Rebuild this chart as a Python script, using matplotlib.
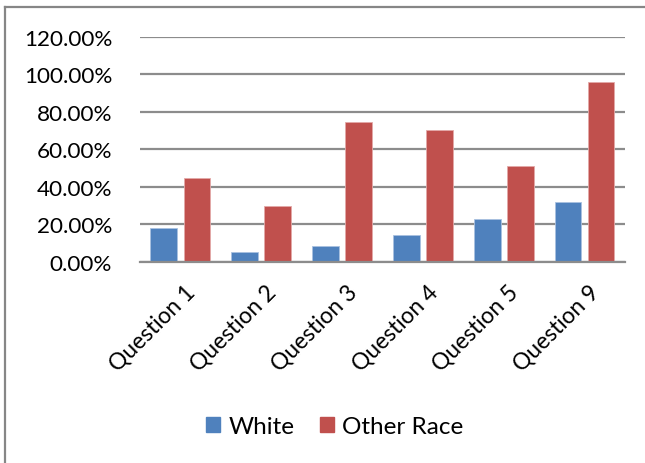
import numpy as np
import matplotlib.pyplot as plt
from matplotlib.lines import Line2D
from matplotlib.patches import Patch
from matplotlib.ticker import PercentFormatter
from matplotlib.transforms import ScaledTranslation

plt.rcParams['font.family'] = ['Lato', 'DejaVu Sans']

# Share of respondents per question, by group
questions = ["Question 1", "Question 2", "Question 3", "Question 4",
             "Question 5", "Question 9"]
white = [18.1, 5.2, 8.4, 14.2, 22.6, 31.8]
other_race = [44.6, 29.7, 74.5, 70.0, 51.0, 95.8]

blue = "#4F81BD"
red = "#C0504D"
grid_gray = "#8C8C8C"

fig = plt.figure(figsize=(6.45, 4.64), dpi=100)
ax = fig.add_axes([0.217, 0.4338, 0.752, 0.485])

x = np.arange(len(questions))
w = 0.33
ax.bar(x - 0.205, white, w, color=blue, edgecolor="#A9C1E0", linewidth=0.6,
       zorder=3)
ax.bar(x + 0.205, other_race, w, color=red, edgecolor="#E3A9A8",
       linewidth=0.6, zorder=3)

ax.set_xlim(-0.5, len(questions) - 0.5)
ax.set_ylim(0, 120)
ax.set_yticks(np.arange(0, 121, 20))
ax.yaxis.set_major_formatter(PercentFormatter(decimals=2))
ax.yaxis.grid(True, color=grid_gray, linewidth=1.6, zorder=0)
ax.set_axisbelow(True)

for s in ["top", "right", "left"]:
    ax.spines[s].set_visible(False)
ax.spines["bottom"].set_color(grid_gray)
ax.spines["bottom"].set_linewidth(1.6)
ax.spines["bottom"].set_zorder(4)

ax.tick_params(axis="both", length=0, colors="black")
ax.tick_params(axis="y", pad=20, labelsize=16.2)
ax.tick_params(axis="x", pad=14, labelsize=16.4)
ax.set_xticks(x)
ax.set_xticklabels(questions, rotation=45, ha="right",
                   rotation_mode="anchor")
shift = ScaledTranslation(4 / 100, 0, fig.dpi_scale_trans)
for lbl in ax.get_xticklabels():
    lbl.set_transform(lbl.get_transform() + shift)

# Legend below the category labels
handles = [Patch(color=blue, label="White"),
           Patch(color=red, label="Other Race")]
fig.legend(handles=handles, loc="center", bbox_to_anchor=(0.519, 0.078),
           ncol=2, frameon=False, fontsize=17.5, handlelength=0.58,
           handleheight=0.58, handletextpad=0.33, columnspacing=1.07)

# Chart frame (left and top edges)
fig.add_artist(Line2D([0.0078, 0.0078], [0, 0.983], color="#868686",
                      linewidth=1.6, transform=fig.transFigure))
fig.add_artist(Line2D([0.0078, 1.0], [0.983, 0.983], color="#868686",
                      linewidth=1.6, transform=fig.transFigure))

fig.savefig("out.png", dpi=100)
